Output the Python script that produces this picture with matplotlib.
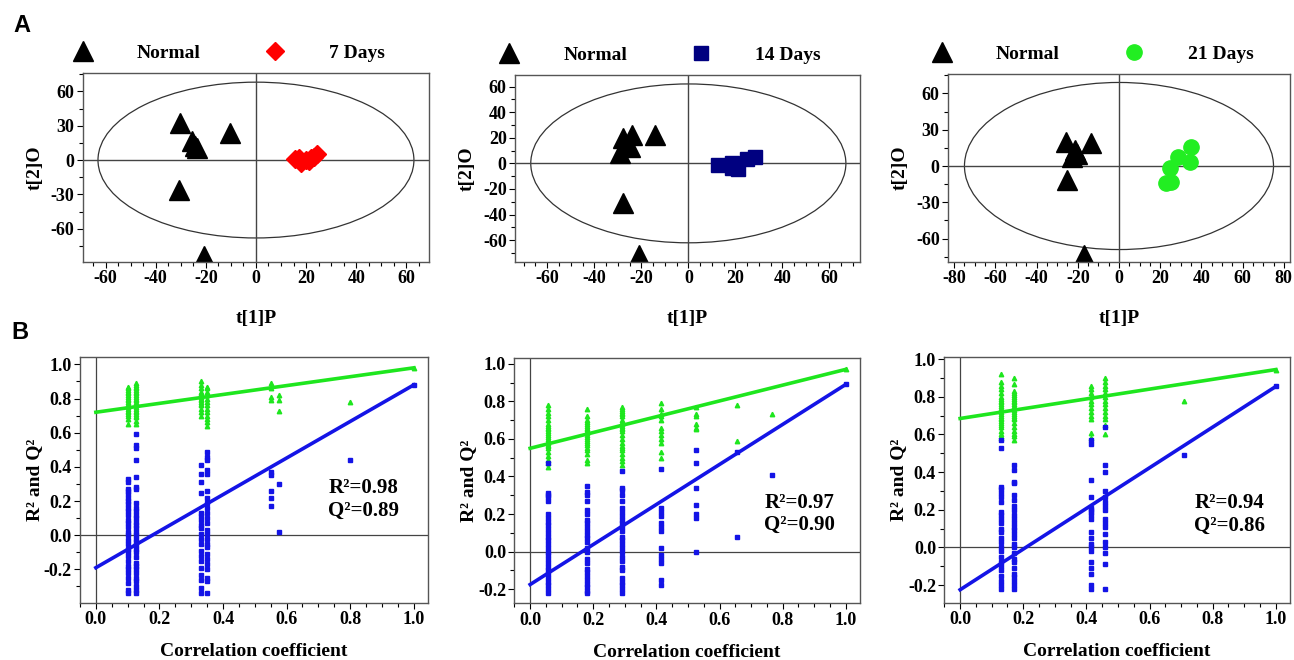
import matplotlib
matplotlib.use("Agg")
import matplotlib.pyplot as plt
from matplotlib.patches import Ellipse
from matplotlib.ticker import MultipleLocator
import numpy as np

plt.rcParams['font.family'] = ['Liberation Serif', 'DejaVu Serif']
plt.rcParams['font.weight'] = 'bold'
plt.rcParams['axes.labelweight'] = 'bold'
plt.rcParams['axes.unicode_minus'] = False

# ---------------- A: OPLS-DA score plots ----------------
normal_7_x = [-30.2, -25.5, -24.2, -23.5, -10.3, -30.8, -20.9]
normal_7_y = [32.7, 16.5, 12.0, 10.6, 23.9, -26.2, -83.7]
day7_x = [15.5, 17.0, 18.0, 20.0, 21.0, 22.0, 23.0, 24.5]
day7_y = [1.0, 2.0, -3.0, 0.0, -1.0, 2.0, 3.0, 5.0]

normal_14_x = [-27.7, -24.1, -24.8, -29.0, -14.2, -27.9, -20.8]
normal_14_y = [19.5, 22.0, 13.0, 7.8, 22.0, -31.2, -71.5]
day14_x = [12.8, 18.5, 18.5, 21.3, 24.8, 28.4]
day14_y = [-1.3, 0.0, -3.9, -4.4, 3.1, 5.2]

normal_21_x = [-25.9, -21.4, -23.0, -20.6, -13.4, -25.4, -16.9]
normal_21_y = [20.0, 13.2, 7.7, 10.0, 18.8, -11.6, -73.6]
day21_x = [35.0, 34.7, 28.5, 25.0, 25.3, 22.6]
day21_y = [16.0, 3.0, 7.2, -1.9, -13.0, -13.8]

# Hotelling T2 ellipse half-axes (t[1], t[2])
ellipse_7 = (63, 68)
ellipse_14 = (67, 62)
ellipse_21 = (75, 69)

# ---------------- B: permutation tests ----------------
b1_x = [0.10, 0.125, 0.33, 0.35, 0.55, 0.575, 0.80, 1.0]
b1_r2 = [
    [0.65, 0.68, 0.70, 0.71, 0.72, 0.73, 0.74, 0.75, 0.76, 0.77, 0.78, 0.79, 0.80, 0.81, 0.82, 0.83, 0.84, 0.85, 0.86, 0.87],
    [0.65, 0.67, 0.69, 0.70, 0.71, 0.72, 0.73, 0.74, 0.75, 0.76, 0.77, 0.78, 0.79, 0.80, 0.81, 0.82, 0.83, 0.84, 0.85, 0.86, 0.87, 0.88, 0.89],
    [0.70, 0.72, 0.74, 0.76, 0.77, 0.78, 0.79, 0.80, 0.81, 0.82, 0.83, 0.84, 0.86, 0.88, 0.90],
    [0.64, 0.66, 0.68, 0.70, 0.72, 0.74, 0.76, 0.78, 0.80, 0.82, 0.84, 0.86, 0.87],
    [0.79, 0.81, 0.86, 0.89],
    [0.73, 0.79, 0.82],
    [0.78],
    [0.98],
]
b1_q2 = [
    [-0.34, -0.32, -0.28, -0.25, -0.22, -0.20, -0.18, -0.15, -0.12, -0.10, -0.08, -0.05, -0.03, 0.00, 0.02, 0.05, 0.07, 0.09, 0.12, 0.14, 0.16, 0.18, 0.20, 0.22, 0.24, 0.26, 0.27, 0.31, 0.33],
    [-0.34, -0.32, -0.30, -0.27, -0.25, -0.22, -0.20, -0.18, -0.16, -0.13, -0.10, -0.08, -0.06, -0.04, -0.02, 0.00, 0.02, 0.04, 0.06, 0.08, 0.10, 0.12, 0.14, 0.16, 0.19, 0.27, 0.28, 0.34, 0.44, 0.51, 0.53, 0.59],
    [-0.34, -0.31, -0.26, -0.23, -0.19, -0.15, -0.12, -0.09, -0.05, -0.02, 0.01, 0.04, 0.06, 0.09, 0.11, 0.13, 0.25, 0.31, 0.36, 0.41],
    [-0.34, -0.27, -0.25, -0.20, -0.17, -0.14, -0.11, -0.07, -0.05, -0.02, 0.01, 0.03, 0.07, 0.10, 0.13, 0.16, 0.19, 0.22, 0.26, 0.36, 0.38, 0.44, 0.46, 0.49],
    [0.17, 0.22, 0.26, 0.35, 0.37],
    [0.02, 0.30],
    [0.44],
    [0.88],
]
b1_int = (0.72, -0.19)   # R2, Q2 intercepts
b1_text = ('R\u00b2=0.98', 'Q\u00b2=0.89')

b2_x = [0.055, 0.18, 0.29, 0.415, 0.525, 0.655, 0.765, 1.0]
b2_r2 = [
    [0.45, 0.47, 0.49, 0.51, 0.53, 0.55, 0.56, 0.57, 0.58, 0.59, 0.60, 0.61, 0.62, 0.63, 0.64, 0.65, 0.66, 0.67, 0.68, 0.70, 0.72, 0.74, 0.76, 0.78],
    [0.47, 0.49, 0.52, 0.54, 0.55, 0.57, 0.58, 0.59, 0.60, 0.61, 0.62, 0.63, 0.64, 0.65, 0.66, 0.67, 0.68, 0.69, 0.70, 0.72, 0.76],
    [0.46, 0.48, 0.50, 0.52, 0.54, 0.55, 0.56, 0.58, 0.60, 0.62, 0.64, 0.65, 0.66, 0.67, 0.68, 0.69, 0.70, 0.72, 0.73, 0.74, 0.75, 0.76, 0.77],
    [0.50, 0.53, 0.58, 0.60, 0.62, 0.64, 0.66, 0.70, 0.72, 0.73, 0.76, 0.79],
    [0.65, 0.66, 0.68, 0.72, 0.73, 0.77],
    [0.59, 0.78],
    [0.73],
    [0.97],
]
b2_q2 = [
    [-0.22, -0.20, -0.18, -0.16, -0.14, -0.12, -0.10, -0.08, -0.06, -0.04, -0.02, 0.00, 0.02, 0.04, 0.06, 0.08, 0.10, 0.12, 0.14, 0.16, 0.18, 0.20, 0.27, 0.29, 0.30, 0.31, 0.47],
    [-0.22, -0.21, -0.19, -0.17, -0.15, -0.13, -0.11, -0.09, -0.06, -0.04, 0.00, 0.02, 0.05, 0.07, 0.09, 0.11, 0.13, 0.15, 0.17, 0.20, 0.22, 0.27, 0.30, 0.32, 0.35],
    [-0.22, -0.20, -0.18, -0.16, -0.14, -0.10, -0.08, -0.05, -0.03, 0.00, 0.02, 0.04, 0.06, 0.08, 0.11, 0.13, 0.15, 0.17, 0.19, 0.21, 0.23, 0.27, 0.30, 0.33, 0.34, 0.43],
    [-0.18, -0.15, -0.06, -0.04, -0.02, 0.02, 0.11, 0.13, 0.15, 0.19, 0.21, 0.23, 0.44],
    [0.00, 0.18, 0.20, 0.25, 0.34, 0.47, 0.54],
    [0.08, 0.53],
    [0.41],
    [0.89],
]
b2_int = (0.55, -0.175)
b2_text = ('R\u00b2=0.97', 'Q\u00b2=0.90')

b3_x = [0.13, 0.17, 0.415, 0.46, 0.71, 1.0]
b3_r2 = [
    [0.58, 0.59, 0.60, 0.62, 0.64, 0.65, 0.66, 0.67, 0.68, 0.69, 0.70, 0.71, 0.72, 0.73, 0.74, 0.75, 0.76, 0.77, 0.78, 0.79, 0.80, 0.82, 0.84, 0.86, 0.88, 0.92],
    [0.57, 0.59, 0.60, 0.62, 0.64, 0.66, 0.68, 0.69, 0.70, 0.71, 0.72, 0.73, 0.74, 0.75, 0.76, 0.77, 0.78, 0.79, 0.80, 0.81, 0.82, 0.83, 0.87, 0.90],
    [0.58, 0.61, 0.68, 0.70, 0.72, 0.74, 0.76, 0.78, 0.80, 0.82, 0.84, 0.86],
    [0.60, 0.65, 0.68, 0.70, 0.72, 0.74, 0.76, 0.78, 0.80, 0.82, 0.84, 0.86, 0.88, 0.90],
    [0.78],
    [0.945],
]
b3_q2 = [
    [-0.22, -0.20, -0.18, -0.15, -0.12, -0.10, -0.08, -0.05, -0.02, 0.00, 0.03, 0.05, 0.08, 0.10, 0.13, 0.15, 0.17, 0.19, 0.24, 0.27, 0.29, 0.31, 0.32, 0.53, 0.57],
    [-0.22, -0.20, -0.18, -0.16, -0.14, -0.11, -0.08, -0.06, -0.03, 0.00, 0.02, 0.05, 0.07, 0.09, 0.11, 0.13, 0.15, 0.17, 0.20, 0.22, 0.25, 0.28, 0.34, 0.35, 0.41, 0.44],
    [-0.22, -0.20, -0.14, -0.11, -0.08, -0.02, 0.00, 0.02, 0.05, 0.08, 0.15, 0.17, 0.19, 0.20, 0.21, 0.27, 0.36, 0.55, 0.57],
    [-0.22, -0.09, -0.03, 0.00, 0.03, 0.07, 0.11, 0.13, 0.15, 0.20, 0.22, 0.24, 0.27, 0.30, 0.40, 0.44, 0.64],
    [0.49],
    [0.855],
]
b3_int = (0.685, -0.225)
b3_text = ('R\u00b2=0.94', 'Q\u00b2=0.86')

GREEN = '#1ee61e'
BLUE = '#1414e6'
FRAME = '#555555'
TICKFS = 13


def style_axes(ax):
    for s in ax.spines.values():
        s.set_color(FRAME)
        s.set_linewidth(1.0)
    ax.tick_params(which='both', direction='out', labelsize=TICKFS, width=0.8,
                   top=False, right=False, pad=2)
    ax.tick_params(which='major', length=4)
    ax.tick_params(which='minor', length=3)


def score_plot(ax, nx, ny, gx, gy, ell, gmarker, gcolor, gsize, glabel,
               xlim, ylim, xmaj, ymaj, ymin, leg_x):
    ax.add_patch(Ellipse((0, 0), 2 * ell[0], 2 * ell[1], fill=False,
                         edgecolor='#333333', lw=0.9))
    ax.axhline(0, color='#444444', lw=1.0)
    ax.axvline(0, color='#444444', lw=1.0)
    ax.plot(nx, ny, ls='none', marker='^', ms=15, color='black', label='Normal')
    ax.plot(gx, gy, ls='none', marker=gmarker, ms=gsize, color=gcolor,
            markeredgecolor=gcolor, label=glabel)
    ax.set_xlim(*xlim)
    ax.set_ylim(*ylim)
    ax.xaxis.set_major_locator(MultipleLocator(xmaj))
    ax.xaxis.set_minor_locator(MultipleLocator(5))
    ax.yaxis.set_major_locator(MultipleLocator(ymaj))
    ax.yaxis.set_minor_locator(MultipleLocator(ymin))
    style_axes(ax)
    ax.set_xlabel('t[1]P', fontsize=14, labelpad=16)
    ax.set_ylabel('t[2]O', fontsize=14, labelpad=5)
    ax.legend(loc='lower left', bbox_to_anchor=(leg_x, 1.06), ncol=2,
              frameon=False, fontsize=14, handlelength=1.2,
              handletextpad=2.2, columnspacing=3.2, borderpad=0,
              borderaxespad=0)


def perm_plot(ax, xs, r2, q2, ints, txt, ylim, tpos):
    ax.axhline(0, color='#444444', lw=0.9)
    ax.axvline(0, color='#444444', lw=0.9)
    for x, g, b in zip(xs, r2, q2):
        ax.plot([x] * len(g), g, ls='none', marker='^', ms=3.2, color=GREEN)
        ax.plot([x] * len(b), b, ls='none', marker='s', ms=2.6, color=BLUE)
    # regression lines from intercept to the original model
    ax.plot([0, xs[-1]], [ints[0], r2[-1][0]], color=GREEN, lw=2.6)
    ax.plot([0, xs[-1]], [ints[1], q2[-1][0]], color=BLUE, lw=2.6)
    ax.set_xlim(-0.05, 1.045)
    ax.set_ylim(*ylim)
    ax.xaxis.set_major_locator(MultipleLocator(0.2))
    ax.xaxis.set_minor_locator(MultipleLocator(0.05))
    ax.yaxis.set_major_locator(MultipleLocator(0.2))
    ax.yaxis.set_minor_locator(MultipleLocator(0.1))
    ax.xaxis.set_major_formatter(plt.FormatStrFormatter('%.1f'))
    ax.yaxis.set_major_formatter(plt.FormatStrFormatter('%.1f'))
    style_axes(ax)
    ax.set_xlabel('Correlation coefficient', fontsize=14, labelpad=11)
    ax.set_ylabel('R\u00b2 and Q\u00b2', fontsize=14, labelpad=0.5)
    ax.text(tpos[0], tpos[1], txt[0] + '\n' + txt[1], transform=ax.transAxes,
            fontsize=15, fontweight='bold', ha='left', va='center',
            linespacing=1.15)


fig = plt.figure(figsize=(12.94, 6.60), dpi=100)

axA1 = fig.add_axes([0.0641, 0.6030, 0.2674, 0.2864])
axA2 = fig.add_axes([0.3980, 0.6030, 0.2666, 0.2834])
axA3 = fig.add_axes([0.7326, 0.6030, 0.2643, 0.2849])
axB1 = fig.add_axes([0.0618, 0.0868, 0.2690, 0.3727])
axB2 = fig.add_axes([0.3975, 0.0859, 0.2671, 0.3721])
axB3 = fig.add_axes([0.7298, 0.0868, 0.2671, 0.3718])

score_plot(axA1, normal_7_x, normal_7_y, day7_x, day7_y, ellipse_7,
           'D', '#ff0000', 9, '7 Days', (-69, 69), (-89, 76), 20, 30, 15, -0.035)
score_plot(axA2, normal_14_x, normal_14_y, day14_x, day14_y, ellipse_14,
           's', '#000080', 10, '14 Days', (-73.7, 73), (-77, 69), 20, 20, 10, -0.052)
score_plot(axA3, normal_21_x, normal_21_y, day21_x, day21_y, ellipse_21,
           'o', '#22ee22', 11, '21 Days', (-83, 83), (-79.3, 76), 20, 30, 15, -0.053)

perm_plot(axB1, b1_x, b1_r2, b1_q2, b1_int, b1_text, (-0.395, 1.045), (0.713, 0.42))
perm_plot(axB2, b2_x, b2_r2, b2_q2, b2_int, b2_text, (-0.275, 1.032), (0.723, 0.365))
perm_plot(axB3, b3_x, b3_r2, b3_q2, b3_int, b3_text, (-0.294, 1.01), (0.723, 0.36))

fig.text(0.017, 0.962, 'A', fontsize=17, fontweight='bold', ha='center',
         va='center', family='Liberation Sans')
fig.text(0.0155, 0.4955, 'B', fontsize=17, fontweight='bold', ha='center',
         va='center', family='Liberation Sans')

# tick labels are created at draw time, so make them bold afterwards
fig.canvas.draw()
for ax in fig.axes:
    for lab in ax.get_xticklabels() + ax.get_yticklabels():
        lab.set_fontweight('bold')

fig.savefig('out.png', dpi=100)
